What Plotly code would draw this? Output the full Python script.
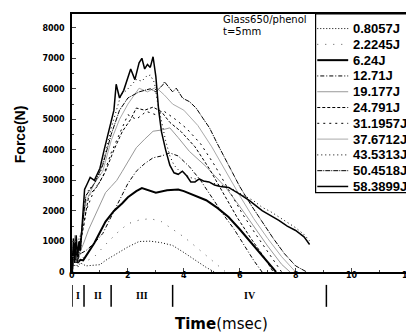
import plotly.graph_objects as go

# ---------------- data ----------------
energies = ["0.8057J", "2.2245J", "6.24J", "12.71J", "19.177J", "24.791J",
            "31.1957J", "37.6712J", "43.5313J", "50.4518J", "58.3899J"]

t_a = [0, 0.1, 0.2, 0.3, 0.5, 0.8, 1.0, 1.2, 1.6, 2.0, 2.4, 2.8, 3.2, 3.6, 4.0, 4.4, 4.8, 5.1]
f_a = [0, 500, 150, 300, 200, 220, 240, 380, 600, 820, 1000, 1010, 960, 870, 640, 380, 150, 0]

t_b = [0, 0.1, 0.2, 0.3, 0.5, 0.8, 1.2, 1.6, 2.0, 2.4, 2.8, 3.2, 3.6, 4.0, 4.4, 4.8, 5.2, 5.5]
f_b = [0, 700, 300, 600, 350, 500, 900, 1270, 1580, 1700, 1750, 1650, 1400, 1150, 850, 550, 220, 0]

t_c = [0, 0.1, 0.2, 0.3, 0.4, 0.6, 0.8, 1.0, 1.2, 1.5, 1.8, 2.0, 2.3, 2.5, 2.8, 3.0, 3.4, 3.8,
       4.0, 4.4, 4.8, 5.2, 5.6, 6.0, 6.4, 6.8, 7.0, 7.3]
f_c = [0, 900, 300, 400, 380, 650, 950, 1300, 1650, 2000, 2250, 2450, 2650, 2750, 2650, 2600,
       2680, 2700, 2650, 2500, 2350, 2100, 1800, 1400, 980, 560, 330, 0]

t_d = [0, 0.1, 0.2, 0.3, 0.5, 0.8, 1.1, 1.4, 1.7, 2.0, 2.3, 2.6, 2.9, 3.2, 3.5, 3.8, 4.2,
       4.6, 5.0, 5.4, 5.8, 6.2, 6.5, 6.8]
f_d = [0, 1000, 400, 600, 700, 950, 1260, 1800, 2340, 2900, 3300, 3550, 3740, 3800, 3900,
       3800, 3450, 3000, 2450, 1900, 1400, 800, 380, 0]

t_e = [0, 0.1, 0.2, 0.3, 0.4, 0.6, 0.8, 1.0, 1.2, 1.4, 1.6, 1.8, 2.0, 2.3, 2.6, 2.9, 3.2,
       3.5, 3.8, 4.2, 4.8, 5.5, 6.0, 6.5, 7.0, 7.5, 7.8]
f_e = [0, 800, 300, 700, 900, 1400, 1800, 2200, 2600, 2800, 3000, 3300, 3600, 4070, 4350,
       4610, 4650, 4720, 4400, 3950, 3450, 2770, 2150, 1500, 850, 250, 0]

t_f = [0, 0.1, 0.2, 0.3, 0.4, 0.6, 0.9, 1.2, 1.5, 1.8, 2.1, 2.3, 2.6, 2.9, 3.2, 3.5, 3.9,
       4.4, 4.9, 5.4, 5.9, 6.4, 6.9, 7.2]
f_f = [0, 1100, 400, 900, 1500, 2500, 2800, 3300, 4000, 4600, 5000, 5370, 5300, 5400, 5250,
       4900, 4600, 4100, 3400, 2600, 1800, 1100, 450, 0]

t_g = [0, 0.1, 0.2, 0.3, 0.4, 0.5, 0.8, 1.1, 1.4, 1.7, 2.0, 2.3, 2.66, 3.0, 3.3, 3.7, 4.1,
       4.6, 5.1, 5.6, 6.1, 6.6, 7.1, 7.5]
f_g = [0, 900, 500, 1200, 1400, 2000, 2700, 3100, 3900, 4500, 5150, 5000, 5260, 5150, 5260,
       5000, 4700, 4200, 3500, 2700, 1900, 1200, 550, 0]

t_h = [0, 0.1, 0.2, 0.3, 0.4, 0.5, 0.8, 1.1, 1.4, 1.7, 2.0, 2.4, 2.7, 3.0, 3.3, 3.6, 4.0,
       4.5, 5.0, 5.5, 6.0, 6.5, 7.0, 7.5, 8.0]
f_h = [0, 1200, 400, 1000, 1600, 2300, 2900, 3300, 4300, 5000, 5500, 6020, 5900, 6050, 5800,
       5500, 5300, 4800, 4100, 3300, 2500, 1750, 1100, 500, 0]

t_i = [0, 0.05, 0.1, 0.15, 0.2, 0.25, 0.3, 0.35, 0.45, 0.6, 0.8, 1.0, 1.2, 1.4, 1.6, 1.75,
       1.95, 2.1, 2.3, 2.5, 2.65, 2.8, 2.95, 3.05, 3.2, 3.35, 3.5, 3.65, 3.8, 4.0, 4.2, 4.4,
       4.6, 4.8, 5.0, 5.3, 5.6, 5.9, 6.2, 6.5, 6.8, 7.1, 7.4, 7.7, 8.0, 8.3, 8.5]
f_i = [0, 900, 200, 1000, 400, 1100, 600, 1200, 2400, 2700, 2900, 3200, 3900, 4700, 5300,
       5800, 5950, 6100, 6300, 6250, 6400, 6450, 6200, 5600, 4900, 4300, 3800, 3500, 3350,
       3250, 3100, 3050, 3000, 2950, 2900, 2850, 2780, 2620, 2480, 2330, 2120, 1980, 1800,
       1620, 1450, 1230, 1020]

t_j = [0, 0.1, 0.2, 0.3, 0.4, 0.5, 0.8, 1.1, 1.4, 1.7, 2.0, 2.4, 2.8, 3.0, 3.25, 3.31, 3.49,
       3.6, 3.73, 3.96, 4.2, 4.44, 4.68, 4.92, 5.2, 5.6, 6.0, 6.4, 6.8, 7.2, 7.6, 8.0, 8.4]
f_j = [0, 1000, 300, 1100, 1800, 2500, 2900, 3500, 4500, 5300, 5700, 5900, 6000, 5900, 6130,
       6230, 6020, 5900, 6020, 5690, 5580, 5370, 5040, 4720, 4200, 3500, 2800, 2200, 1650,
       1100, 600, 200, 0]

t_k = [0, 0.05, 0.1, 0.15, 0.2, 0.25, 0.3, 0.35, 0.4, 0.45, 0.55, 0.65, 0.8, 1.0, 1.15, 1.25,
       1.35, 1.5, 1.58, 1.7, 1.85, 2.0, 2.1, 2.25, 2.4, 2.5, 2.6, 2.7, 2.8, 2.9, 3.0, 3.1,
       3.2, 3.35, 3.5, 3.65, 3.8, 3.95, 4.1, 4.25, 4.4, 4.55, 4.7, 4.9, 5.1, 5.3, 5.6, 6.0,
       6.35, 6.8, 7.1, 7.4, 7.7, 8.0, 8.3, 8.5]
f_k = [0, 1100, 300, 1200, 500, 1000, 700, 1300, 1800, 2700, 2900, 3100, 3000, 3400, 4000,
       4400, 4700, 5300, 6150, 5700, 5950, 6400, 6650, 6300, 6850, 7000, 6650, 6800, 6700,
       7050, 6400, 5300, 4600, 4000, 3500, 3250, 3200, 3300, 3150, 2950, 2950, 3050, 2980,
       2950, 2850, 2800, 2770, 2550, 2340, 2010, 1850, 1690, 1500, 1360, 1150, 900]

series_t = [t_a, t_b, t_c, t_d, t_e, t_f, t_g, t_h, t_i, t_j, t_k]
series_f = [f_a, f_b, f_c, f_d, f_e, f_f, f_g, f_h, f_i, f_j, f_k]

x_ticks = [0, 2, 4, 6, 8, 10, 12]
y_ticks = [0, 1000, 2000, 3000, 4000, 5000, 6000, 7000, 8000]

region_bounds = [0, 0.43, 1.4, 3.6, 9.1]
region_labels = ["I", "II", "III", "IV"]

# ---------------- styles ----------------
styles = [
    dict(color="black", width=1, dash="1px,2px"),
    dict(color="#555", width=1, dash="1px,7px"),
    dict(color="black", width=2, dash="solid"),
    dict(color="black", width=1, dash="1px,2px,4px,2px"),
    dict(color="#999", width=1, dash="solid"),
    dict(color="black", width=1, dash="3px,2px"),
    dict(color="black", width=1, dash="2px,4px"),
    dict(color="#aaa", width=1, dash="solid"),
    dict(color="black", width=1, dash="1px,3px"),
    dict(color="black", width=1, dash="5px,1px,1px,1px"),
    dict(color="black", width=1.5, dash="solid"),
]

fig = go.Figure()
for name, tt, ff, st in zip(energies, series_t, series_f, styles):
    fig.add_trace(go.Scatter(x=tt, y=ff, mode="lines", name=name, line=st, showlegend=False))

# ---- legend box drawn by hand (tight row spacing like the original) ----
box_x0, box_x1, box_y0, box_y1 = 0.725, 1.0, 0.308, 1.0
fig.add_shape(type="rect", xref="paper", yref="paper", x0=box_x0, x1=box_x1, y0=box_y0,
              y1=box_y1, line=dict(color="black", width=1.2), fillcolor="white", layer="above")
row_top, row_step = 0.9435, 0.0612
for i, (name, st) in enumerate(zip(energies, styles)):
    yy = row_top - i * row_step
    fig.add_shape(type="line", xref="paper", yref="paper", x0=0.73, x1=0.822, y0=yy, y1=yy,
                  line=st, layer="above")
    fig.add_annotation(x=0.83, y=yy, xref="paper", yref="paper", xanchor="left",
                       yanchor="middle", text=name, showarrow=False,
                       font=dict(family="Liberation Sans", size=13, color="black",
                                 weight="bold"))

# phase separators under the axis
for b in region_bounds:
    fig.add_shape(type="line", xref="x", yref="paper", x0=b, x1=b, y0=-0.05, y1=-0.135,
                  line=dict(color="black", width=1.5))
for i, lab in enumerate(region_labels):
    fig.add_annotation(x=(region_bounds[i] + region_bounds[i + 1]) / 2, y=-0.092,
                       xref="x", yref="paper", text=lab, showarrow=False,
                       xanchor="center", yanchor="middle",
                       font=dict(family="Liberation Serif", size=10, color="black",
                                 weight="bold"))

# x tick labels sitting on the axis line as in the original
for v in x_ticks:
    fig.add_annotation(x=v, y=-0.012, xref="x", yref="paper", text=str(v), showarrow=False,
                       xanchor="center", yanchor="middle",
                       font=dict(family="DejaVu Sans", size=8, color="black", weight="bold"))

fig.add_annotation(x=0.444, y=(264 - 9.5) / 260, xref="paper", yref="paper", xanchor="left",
                   yanchor="middle", text="Glass650/phenol", showarrow=False,
                   font=dict(family="DejaVu Sans", size=10, color="black"))
fig.add_annotation(x=0.444, y=(264 - 21.5) / 260, xref="paper", yref="paper", xanchor="left",
                   yanchor="middle", text="t=5mm", showarrow=False,
                   font=dict(family="DejaVu Sans", size=10, color="black"))

# axis titles
fig.add_annotation(x=-0.154, y=0.535, xref="paper", yref="paper", text="Force(N)",
                   textangle=-90, showarrow=False, xanchor="center", yanchor="middle",
                   font=dict(family="Liberation Sans", size=14, color="black", weight="bold"))
fig.add_annotation(x=0.444, y=-0.2, xref="paper", yref="paper", text="<b>Time</b>(msec)",
                   showarrow=False, xanchor="center", yanchor="middle",
                   font=dict(family="DejaVu Sans", size=15, color="black"))

fig.update_layout(
    width=406, height=325,
    margin=dict(l=64, r=4, t=4, b=61),
    paper_bgcolor="white", plot_bgcolor="white",
    showlegend=False,
    font=dict(family="Liberation Sans", color="black"),
)
fig.update_xaxes(range=[0, 12.02], tickvals=x_ticks, ticks="inside", ticklen=4, tickwidth=1.2,
                 showticklabels=False,
                 showline=True, linecolor="black", linewidth=1.5, mirror=True,
                 showgrid=False, zeroline=False,
                 minor=dict(ticks="inside", ticklen=2, dtick=1))
fig.update_yaxes(range=[0, 8450], tickvals=y_ticks, ticks="inside", ticklen=4, tickwidth=1.2,
                 showline=True, linecolor="black", linewidth=1.5, mirror=True,
                 showgrid=False, zeroline=False, ticklabelstandoff=4,
                 tickfont=dict(family="DejaVu Sans", size=8, color="black", weight="bold"),
                 minor=dict(ticks="inside", ticklen=2, dtick=500))

fig.write_html("out.html")
